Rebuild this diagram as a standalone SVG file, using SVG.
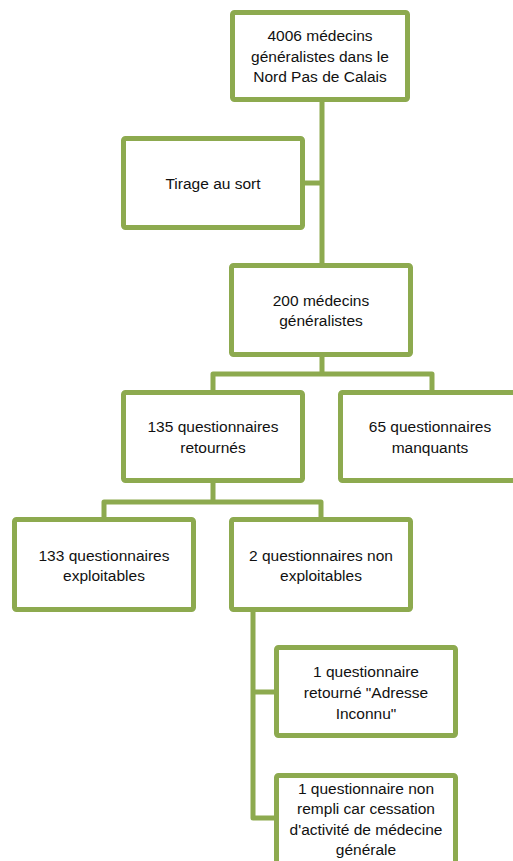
<svg xmlns="http://www.w3.org/2000/svg" width="513" height="861" viewBox="0 0 513 861">
<style>
.box{fill:#fff;stroke:#8DAA4F;stroke-width:5}
.con{fill:none;stroke:#8DAA4F;stroke-width:5;stroke-linejoin:round}
text{font-family:"Liberation Sans",Arial,sans-serif;font-size:15.5px;fill:#111;text-anchor:middle}
</style>
<rect width="513" height="861" fill="#fff"/>
<g id="connectors">
<path class="con" d="M322,102 V265"/>
<path class="con" d="M305,183 H322"/>
<path class="con" d="M322,357 V374 M213,392 V374 H432 V392"/>
<path class="con" d="M213,483 V502 M104,519 V502 H321 V519"/>
<path class="con" d="M253,612 V818 H276 M253,692 H276"/>
</g>
<g id="n1"><rect class="box" x="232.5" y="12.5" width="175" height="87" rx="2"/>
<text x="320" y="41">4006 médecins</text><text x="320" y="61.5">généralistes dans le</text><text x="320" y="82">Nord Pas de Calais</text></g>
<g id="n2"><rect class="box" x="123.5" y="138.5" width="179" height="89" rx="2"/>
<text x="213" y="188.5">Tirage au sort</text></g>
<g id="n3"><rect class="box" x="231.5" y="265.5" width="179" height="89" rx="2"/>
<text x="321" y="305.5">200 médecins</text><text x="321" y="326">généralistes</text></g>
<g id="n4"><rect class="box" x="123.5" y="392.5" width="179" height="88" rx="2"/>
<text x="213" y="432">135 questionnaires</text><text x="213" y="452.5">retournés</text></g>
<g id="n5"><rect class="box" x="340.5" y="392.5" width="179" height="88" rx="2"/>
<text x="430" y="432">65 questionnaires</text><text x="430" y="452.5">manquants</text></g>
<g id="n6"><rect class="box" x="14.5" y="519.5" width="179" height="90" rx="2"/>
<text x="104" y="560.5">133 questionnaires</text><text x="104" y="581">exploitables</text></g>
<g id="n7"><rect class="box" x="231.5" y="519.5" width="179" height="90" rx="2"/>
<text x="321" y="560.5">2 questionnaires non</text><text x="321" y="581">exploitables</text></g>
<g id="n8"><rect class="box" x="276.5" y="647.5" width="179" height="88" rx="2"/>
<text x="366" y="677">1 questionnaire</text><text x="366" y="698">retourné "Adresse</text><text x="366" y="718.5">Inconnu"</text></g>
<g id="n9"><rect class="box" x="276.5" y="775.5" width="179" height="100" rx="2"/>
<text x="366" y="793.5">1 questionnaire non</text><text x="366" y="814">rempli car cessation</text><text x="366" y="834.5">d'activité de médecine</text><text x="366" y="855">générale</text></g>
</svg>
